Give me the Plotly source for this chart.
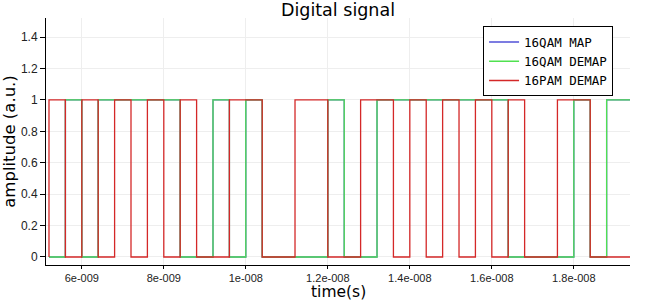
import plotly.graph_objects as go

# Bit sequences (one value per symbol slot)
t_start = 5.2e-9
bit_period = 0.4e-9
initial_level = 0

qam_map = [0, 1, 0, 1, 1, 1, 1, 1, 0, 0, 1, 0, 1, 0, 0, 0, 0, 1,
           0, 0, 1, 1, 1, 1, 1, 1, 1, 1, 0, 0, 0, 0, 1, 0, 1, 1]
qam_demap = [0, 1, 0, 1, 1, 1, 1, 1, 0, 0, 1, 0, 1, 0, 0, 0, 0, 1,
             0, 0, 1, 1, 1, 1, 1, 1, 1, 1, 0, 0, 0, 0, 1, 0, 1, 1]
pam_demap = [1, 0, 1, 0, 1, 0, 1, 0, 1, 0, 0, 1, 1, 0, 0, 1, 1, 0,
             0, 1, 1, 0, 1, 0, 1, 0, 1, 0, 1, 0, 0, 1, 1, 0, 0, 0]

series_names = ["16QAM MAP", "16QAM DEMAP", "16PAM DEMAP"]
series_colors = ["rgb(80,80,215)", "rgb(80,225,80)", "rgb(212,40,40)"]

x_tickvals = [6e-9, 8e-9, 1e-8, 1.2e-8, 1.4e-8, 1.6e-8, 1.8e-8]
x_ticktext = ["6e-009", "8e-009", "1e-008", "1.2e-008", "1.4e-008", "1.6e-008", "1.8e-008"]
y_tickvals = [0, 0.2, 0.4, 0.6, 0.8, 1, 1.2, 1.4]
y_ticktext = ["0", "0.2", "0.4", "0.6", "0.8", "1", "1.2", "1.4"]


def step_xy(bits):
    n = len(bits)
    xs = [t_start] + [t_start + k * bit_period for k in range(n + 1)]
    ys = [initial_level] + list(bits) + [bits[-1]]
    return xs, ys


fig = go.Figure()
for name, bits, col in zip(series_names, [qam_map, qam_demap, pam_demap], series_colors):
    xs, ys = step_xy(bits)
    fig.add_trace(go.Scatter(x=xs, y=ys, mode="lines", name=name,
                             line=dict(color=col, width=1.3, shape="hv")))

tick_font = dict(family="Liberation Sans", size=12, color="#222222")
fig.update_layout(
    width=650, height=301,
    margin=dict(l=46, r=20, t=18, b=36, autoexpand=False),
    paper_bgcolor="white", plot_bgcolor="white",
    font=dict(family="DejaVu Sans", color="black", size=12),
    title=dict(text="Digital signal", x=0.52, xanchor="center",
               y=1 - 10 / 301, yanchor="middle", yref="container",
               font=dict(size=17.5, color="black")),
    showlegend=True,
    legend=dict(x=0.971, xanchor="right", y=0.966, yanchor="top",
                bgcolor="white", bordercolor="black", borderwidth=1,
                font=dict(family="DejaVu Sans Mono", size=12.5, color="black"),
                tracegroupgap=0, itemwidth=30),
    xaxis=dict(range=[5.127e-9, 1.937e-8], tickvals=x_tickvals, ticktext=x_ticktext,
               automargin=False,
               showgrid=True, gridcolor="#eeeeee", gridwidth=1,
               showline=True, linecolor="black", linewidth=1,
               ticks="outside", ticklen=3, tickcolor="black",
               zeroline=False,
               tickfont=dict(family="Liberation Sans", size=11, color="#222222")),
    yaxis=dict(range=[-0.051, 1.522], tickvals=y_tickvals, ticktext=y_ticktext,
               automargin=False,
               showgrid=True, gridcolor="#eeeeee", gridwidth=1,
               showline=True, linecolor="black", linewidth=1,
               ticks="outside", ticklen=5, tickcolor="black",
               zeroline=False,
               title=dict(text="amplitude (a.u.)", font=dict(size=16.5), standoff=2),
               tickfont=tick_font),
    annotations=[dict(text="time(s)", xref="paper", yref="paper", x=0.5, y=-0.109,
                      xanchor="center", yanchor="middle", showarrow=False,
                      font=dict(family="DejaVu Sans", size=15.5, color="black"))],
)

fig.write_html("out.html")
